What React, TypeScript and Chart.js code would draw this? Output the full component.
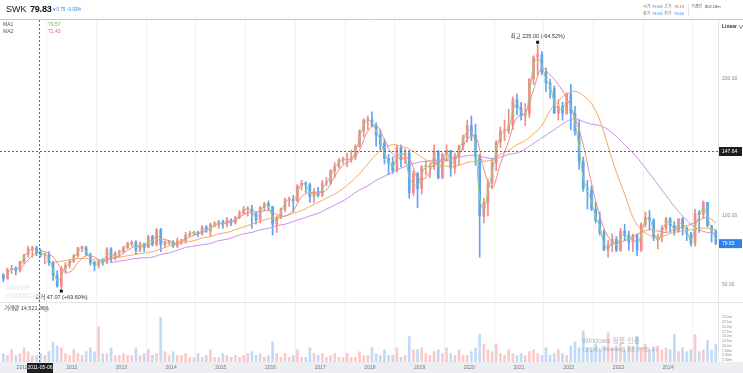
import React, { useEffect, useRef } from "react";
import { Chart, registerables } from "chart.js";
Chart.register(...registerables);

// ---------- data (monthly candles, Aug 2010 – Dec 2024) ----------
const FIRST_YEAR = 2010;
const FIRST_MONTH = 8;
const COUNT = 173;
const months: string[] = (() => {
  const out: string[] = [];
  let y = FIRST_YEAR, m = FIRST_MONTH;
  for (let k = 0; k < COUNT; k++) {
    out.push(`${y}-${String(m).padStart(2, "0")}`);
    m++;
    if (m > 12) { m = 1; y++; }
  }
  return out;
})();

const openP = [
  57,54,61,62,60,
  67,72,76,77,73,72,72,66,57,49,62,64,
  67,71,77,77,72,66,64,67,66,76,69,73,
  74,77,80,81,75,80,77,85,79,90,79,81,
  81,78,82,82,86,87,88,87,92,89,94,94,
  96,94,97,95,99,102,105,105,102,97,106,109,
  107,94,99,105,112,112,111,122,124,123,114,118,
  115,124,124,133,136,141,141,141,143,151,162,170,
  170,166,159,153,142,139,133,150,141,146,117,131,
  120,136,136,136,147,128,145,148,135,144,151,157,
  166,159,143,100,110,124,139,154,162,162,166,185,
  179,173,175,200,216,218,205,197,193,175,180,175,
  189,175,162,140,120,119,105,97,88,75,79,83,
  75,89,86,81,86,75,94,99,97,84,85,91,
  98,93,89,98,91,87,80,102,101,110,93,89,
];
const highP = [
  58,62,64,63,67,
  72,78,78,78,76,73,74,67,60,63,66,68,
  72,77,78,78,73,67,68,69,77,77,74,75,
  78,81,82,82,81,80,86,86,91,91,82,82,
  82,84,83,88,89,89,89,93,93,95,96,97,
  97,99,98,100,104,107,107,108,103,107,110,111,
  107,100,106,113,114,115,123,126,125,124,120,121,
  126,128,134,139,142,143,146,148,152,163,171,173,
  176,168,163,156,145,143,152,152,149,148,133,132,
  137,140,138,152,148,146,152,148,146,152,159,170,
  173,167,145,113,127,142,155,165,170,178,187,189,
  183,182,200,217,225,220,208,200,195,185,183,190,
  196,180,170,143,126,122,110,103,90,82,87,85,
  91,94,89,87,87,95,103,104,98,87,93,99,
  99,96,98,99,92,88,105,104,111,110,93,90,
];
const lowP = [
  52,54,58,57,59,
  65,70,70,71,70,65,64,53,48,47.07,58,62,
  66,70,74,71,64,60,62,64,65,66,68,70,
  73,76,78,72,74,74,77,78,78,74,77,79,
  77,77,79,80,85,86,85,86,88,85,92,91,
  91,92,93,94,98,101,100,91,94,95,104,104,
  86,88,98,103,107,103,110,119,117,110,110,114,
  114,122,123,128,135,138,136,139,141,150,158,163,
  165,151,148,138,130,131,132,136,138,113,115,106,
  116,130,128,134,127,127,140,129,131,137,148,154,
  155,137,70,95,100,120,133,150,155,160,163,174,
  170,166,172,196,203,203,191,186,175,170,170,174,
  163,159,134,118,105,104,95,86,75,70,74,74,
  74,82,75,74,71,74,92,90,82,76,81,89,
  88,86,88,86,82,78,78,88,98,92,81,79,
];
const closeP = [
  54,61,62,60,67,
  72,76,77,73,72,72,66,57,49,62,64,67,
  71,77,77,72,66,64,67,66,76,69,73,74,
  77,80,81,75,80,77,85,79,90,79,81,81,
  78,82,82,86,87,88,87,92,89,94,94,96,
  94,97,95,99,102,105,105,102,97,106,109,107,
  94,99,105,112,112,111,122,124,123,114,118,115,
  124,124,133,136,141,141,141,143,151,162,170,170,
  166,159,153,142,139,133,150,141,146,117,131,120,
  136,136,136,147,128,145,148,135,144,151,157,166,
  159,143,100,110,124,139,154,162,162,166,185,179,
  173,175,200,216,218,205,197,193,175,180,175,189,
  175,162,140,120,119,105,97,88,75,79,83,75,
  89,86,81,86,75,94,99,97,84,85,91,98,
  93,89,98,91,87,80,102,101,110,93,89,80,
];
// volume, millions
const volumeM = [
  6,5,8,5,6,
  9,7,5,5,6,5,7,12,10,9,6,5,
  8,6,5,7,9,7,20,6,6,9,5,5,
  6,5,5,9,5,6,8,5,6,25,7,5,
  7,5,5,6,4,4,6,4,5,8,4,4,
  6,5,4,5,4,5,6,7,5,6,4,5,
  12,6,4,6,4,5,8,4,4,9,6,5,
  6,4,5,6,4,4,6,4,4,7,5,5,
  9,6,5,8,5,5,9,4,5,15,8,8,
  9,6,5,7,8,6,9,6,5,8,5,5,
  7,9,16,11,8,7,11,6,5,8,6,5,
  6,5,7,8,6,5,9,5,6,8,6,5,
  10,12,9,18,9,8,11,8,10,17,9,10,
  11,8,10,10,15,9,11,8,9,10,8,9,
  8,16,7,9,7,8,16,7,8,13,8,11,
];
// MA1 (short), monthly
const ma1 = [
  null,58,61,61,63,
  70,74,76,75,72,72,69,61,53,56,63,65,
  69,74,77,74,69,64,66,66,72,72,71,73,
  76,79,80,77,78,78,82,82,86,83,80,81,
  79,80,82,84,87,88,87,90,90,91,94,95,
  94,96,96,97,101,104,105,103,99,102,108,107,
  99,96,103,109,112,111,117,123,123,117,116,116,
  120,124,129,135,139,141,141,142,147,157,166,170,
  168,162,155,146,140,136,143,145,144,128,124,122,
  130,136,136,143,136,137,147,140,140,148,155,162,
  162,151,113,105,118,132,148,158,162,164,177,182,
  176,174,188,210,215,210,200,195,183,178,178,184,
  180,168,150,128,119,110,100,92,80,76,81,79,
  84,87,83,83,80,86,97,98,89,82,88,95,
  95,90,94,94,89,82,92,100,106,100,90,83,
];
// MA2..MA4 sampled every two months (Dec 2010, Feb 2011, ... Dec 2024)
const maDates = months.filter((_, i) => i >= 4 && i % 2 === 0);
const ma2 = [
  61,68,73,74,70,62,59,66,71,70,67,69,71,75,78,78,80,83,82,80,83,86,88,91,94,95,97,101,103,103,104,101,100,104,114,117,117,119,129,137,141,148,162,166,156,145,142,142,128,128,138,140,141,145,156,158,134,121,138,155,172,175,192,208,203,196,186,172,152,124,100,85,80,82,85,88,90,89,88,90,92,94,97,99,95,
];
const ma3 = [
  null,null,null,null,
  66,67,68,69,69,68,68,69,70,71,72,73,74,76,78,80,81,82,84,85,87,88,90,92,94,96,98,99,100,102,104,107,110,113,116,120,125,131,138,145,150,152,151,149,145,141,138,137,136,137,139,140,140,141,145,148,152,155,160,166,177,184,189,191,188,182,170,151,132,116,99,90,86,84,86,88,89,90,91,91,90,
];
const ma4 = [
  null,null,null,null,null,null,null,null,null,null,null,
  66,67,68,69,69.5,70,72,73,75,77,78,79,80,82,83,85,87,88,90,91,93,94,96,98,100,102,105,108,111,115,119,122,126,129,132,135,137,139,140,140.5,141,142,143,144,144.5,143,142,143,145,146,149,153,157,161,165,169,171,169,167,166,163,158,152,146,139,131,123,115,107,100,94,90,88,87.5,
];
const yearTicks = [2011,2012,2013,2014,2015,2016,2017,2018,2019,2020,2021,2022,2023,2024];
const priceTicks = [50, 100, 200];
const volumeTicks = [2.5,5,7.5,10,12.5,15,17.5,20,22.5,25];

const CROSS_DATE = "2011-05-06";
const CROSS_PRICE = 147.64;
const LAST_PRICE = 79.83;
const MAX_LABEL = "최고 225.00 (-64.52%)";
const MIN_LABEL = "최저 47.07 (+69.60%)";

// ---------- styling ----------
const UP = "#f38b8b";
const DOWN = "#5fa3f2";
const VUP = "rgba(248,180,180,0.7)";
const VDOWN = "rgba(168,202,242,0.7)";
const FONT = '"Liberation Sans", Arial, "Noto Sans CJK KR", sans-serif';

const xOf = (d: string) => {
  const [y, m] = d.split("-").map(Number);
  return (y - 2011) * 12 + (m - 1) + 0.5;
};
const xOfDay = (d: string) => {
  const [y, m, day] = d.split("-").map(Number);
  return (y - 2011) * 12 + (m - 1) + (day - 1) / 31;
};

const X_MIN = -5.31, X_MAX = 168.04;
const Y_MIN = 37.23, Y_MAX = 243.07;
const V_MAX = 33.0;
const BAND_TOP = 362;

const annotPlugin = {
  id: "annot",
  beforeDraw(chart: any) {
    const { ctx, width, height } = chart;
    ctx.save();
    ctx.fillStyle = "#ffffff";
    ctx.fillRect(0, 0, width, height);
    ctx.restore();
  },
  afterDatasetsDraw(chart: any) {
    const { ctx, width, height, scales } = chart;
    ctx.save();
    ctx.fillStyle = "#eceef2";
    ctx.fillRect(0, BAND_TOP, width, height - BAND_TOP);
    const xs = scales.x;
    ctx.font = `5px ${FONT}`;
    ctx.fillStyle = "#777";
    ctx.textAlign = "center";
    ctx.textBaseline = "middle";
    yearTicks.forEach((y) => {
      ctx.fillText(String(y), xs.getPixelForValue((y - 2011) * 12), 367.5);
    });
    ctx.restore();
  },
  afterDraw(chart: any) {
    const { ctx, chartArea: ca, scales, width } = chart;
    const xs = scales.x, ys = scales.y, yv = scales.yv;
    ctx.save();
    ctx.lineWidth = 1;
    ctx.strokeStyle = "#c8c8c8";
    ctx.beginPath(); ctx.moveTo(0, ca.top - 0.5); ctx.lineTo(width, ca.top - 0.5); ctx.stroke();
    ctx.strokeStyle = "#e4e4e4";
    ctx.beginPath(); ctx.moveTo(0, yv.top + 0.5); ctx.lineTo(width, yv.top + 0.5); ctx.stroke();

    const cx = Math.round(xs.getPixelForValue(xOfDay(CROSS_DATE))) + 0.5;
    const hy = Math.round(ys.getPixelForValue(CROSS_PRICE)) + 0.5;
    ctx.setLineDash([2, 2]);
    ctx.strokeStyle = "#666";
    ctx.beginPath(); ctx.moveTo(cx, ca.top); ctx.lineTo(cx, BAND_TOP); ctx.stroke();
    ctx.beginPath(); ctx.moveTo(0, hy); ctx.lineTo(ca.right, hy); ctx.stroke();
    ctx.setLineDash([]);

    ctx.font = `5px ${FONT}`;
    ctx.textBaseline = "middle";
    const box = (yy: number, text: string, color: string) => {
      ctx.fillStyle = color;
      ctx.fillRect(ca.right + 1, yy - 4.5, 23, 9);
      ctx.fillStyle = "#fff";
      ctx.textAlign = "left";
      ctx.fillText(text, ca.right + 4, yy);
    };
    box(hy, CROSS_PRICE.toFixed(2), "#1e1e1e");
    box(ys.getPixelForValue(LAST_PRICE), LAST_PRICE.toFixed(2), "#2f80ed");

    ctx.fillStyle = "#1e1e1e";
    ctx.fillRect(cx - 12.5, BAND_TOP + 1, 26, 10);
    ctx.fillStyle = "#fff";
    ctx.textAlign = "center";
    ctx.fillText(CROSS_DATE, cx + 0.5, BAND_TOP + 6);

    let hi = 0, lo = 0;
    highP.forEach((v, i) => { if (v > highP[hi]) hi = i; });
    lowP.forEach((v, i) => { if (v < lowP[lo]) lo = i; });
    const hx = xs.getPixelForValue(xOf(months[hi]));
    const hyy = ys.getPixelForValue(highP[hi]);
    const lx = xs.getPixelForValue(xOf(months[lo]));
    const lyy = ys.getPixelForValue(lowP[lo]);
    ctx.fillStyle = "#111";
    ctx.fillRect(hx - 1.5, hyy - 4, 3, 3);
    ctx.fillRect(lx - 1.5, lyy + 1, 3, 3);
    ctx.font = `5.5px ${FONT}`;
    ctx.fillStyle = "#333";
    ctx.textAlign = "center";
    ctx.fillText(MAX_LABEL, hx, hyy - 8);
    ctx.fillText(MIN_LABEL, lx, lyy + 8.5);
    ctx.restore();
  },
};

export default function App() {
  const ref = useRef<HTMLCanvasElement | null>(null);

  useEffect(() => {
    document.body.style.margin = "0";
    if (!ref.current) return;
    const isUp = (i: number) => closeP[i] >= openP[i];
    const candleColors = months.map((_, i) => (isUp(i) ? UP : DOWN));
    const volColors = months.map((_, i) => (isUp(i) ? VUP : VDOWN));
    const maLine = (dates: string[], vals: (number | null)[], color: string, order: number) => ({
      type: "line" as const,
      yAxisID: "y",
      data: dates.map((d, i) => ({ x: xOf(d), y: vals[i] })).filter((p) => p.y !== null),
      borderColor: color,
      borderWidth: 1,
      pointRadius: 0,
      tension: 0.4,
      order,
    });

    const chart = new Chart(ref.current, {
      type: "bar",
      data: {
        datasets: [
          {
            type: "bar",
            yAxisID: "yv",
            data: months.map((d, i) => ({ x: xOf(d), y: volumeM[i] })),
            backgroundColor: volColors,
            barThickness: 2,
            grouped: false,
            order: 10,
          } as any,
          {
            type: "bar",
            yAxisID: "y",
            data: months.map((d, i) => ({ x: xOf(d), y: [lowP[i], highP[i]] })),
            backgroundColor: candleColors,
            barThickness: 1,
            grouped: false,
            order: 6,
          } as any,
          {
            type: "bar",
            yAxisID: "y",
            data: months.map((d, i) => ({ x: xOf(d), y: [openP[i], closeP[i]] })),
            backgroundColor: candleColors,
            barThickness: 2,
            minBarLength: 1,
            grouped: false,
            order: 5,
          } as any,
          maLine(maDates, ma4, "#c990e6", 4),
          maLine(maDates, ma3, "#f6a85c", 3),
          maLine(maDates, ma2, "#f08a8a", 2),
          maLine(months, ma1, "#92d27e", 1),
        ],
      },
      options: {
        animation: false,
        responsive: false,
        devicePixelRatio: 1,
        layout: { padding: { top: 20, left: 0, right: 0, bottom: 0 } },
        plugins: { legend: { display: false }, tooltip: { enabled: false } },
        scales: {
          x: {
            type: "linear",
            min: X_MIN,
            max: X_MAX,
            offset: false,
            grid: { color: "#f1f1f1", drawTicks: false },
            border: { display: false },
            ticks: { display: false },
            afterBuildTicks: (s: any) => {
              s.ticks = yearTicks.map((y) => ({ value: (y - 2011) * 12 }));
            },
            afterFit: (s: any) => { s.height = 8; },
          },
          y: {
            type: "linear",
            position: "right",
            stack: "panel",
            stackWeight: 282,
            min: Y_MIN,
            max: Y_MAX,
            grid: { display: false, drawTicks: false },
            border: { display: true, color: "#e6e6e6" },
            ticks: {
              font: { size: 5, family: FONT },
              color: "#888",
              padding: 4,
              autoSkip: false,
              callback: (v: any) => Number(v).toFixed(2),
            },
            afterBuildTicks: (s: any) => {
              s.ticks = priceTicks.map((v) => ({ value: v }));
            },
            afterFit: (s: any) => { s.width = 25; },
          },
          yv: {
            type: "linear",
            position: "right",
            stack: "panel",
            stackWeight: 63,
            min: 0,
            max: V_MAX,
            grid: { display: false, drawTicks: false },
            border: { display: true, color: "#e6e6e6" },
            ticks: {
              font: { size: 3.5, family: FONT },
              color: "#888",
              padding: 4,
              autoSkip: false,
              callback: (v: any) => {
                const n = Number(v);
                return (n >= 10 ? n.toFixed(1) : n.toFixed(2)) + "m";
              },
            },
            afterBuildTicks: (s: any) => {
              s.ticks = volumeTicks.map((v) => ({ value: v }));
            },
            afterFit: (s: any) => { s.width = 25; },
          },
        },
      } as any,
      plugins: [annotPlugin],
    });
    return () => chart.destroy();
  }, []);

  const abs = (l: number, t: number, extra: React.CSSProperties = {}): React.CSSProperties => ({
    position: "absolute",
    left: l,
    top: t,
    lineHeight: 1,
    whiteSpace: "nowrap",
    fontFamily: FONT,
    pointerEvents: "none",
    ...extra,
  });
  const sep = (l: number): React.CSSProperties => ({
    position: "absolute", left: l, top: 4, width: 1, height: 12, background: "#e6e6e6",
  });

  return (
    <div style={{ position: "relative", width: 743, height: 373, background: "#fff", overflow: "hidden" }}>
      <canvas ref={ref} width={743} height={373} style={{ position: "absolute", left: 0, top: 0, display: "block" }} />
      {/* header */}
      <div style={abs(6, 5, { fontSize: 9, color: "#111" })}>SWK</div>
      <div style={abs(30, 5, { fontSize: 9, fontWeight: "bold", color: "#111", letterSpacing: -0.2 })}>79.83</div>
      <div style={abs(52, 8, { fontSize: 4.5, color: "#2f80ed" })}>▼0.75</div>
      <div style={abs(67, 8, { fontSize: 4.5, color: "#2f80ed" })}>-0.93%</div>

      <div style={abs(643, 5, { fontSize: 4, color: "#666" })}>시가</div>
      <div style={abs(652, 5, { fontSize: 4, color: "#2f80ed" })}>79.69</div>
      <div style={sep(662)} />
      <div style={abs(664, 5, { fontSize: 4, color: "#666" })}>고가</div>
      <div style={abs(674, 5, { fontSize: 4, color: "#e54848" })}>78.19</div>
      <div style={sep(688)} />
      <div style={abs(691, 5, { fontSize: 4, color: "#666" })}>거래량</div>
      <div style={abs(705, 5, { fontSize: 4, color: "#444" })}>802.18m</div>
      <div style={abs(643, 12, { fontSize: 4, color: "#666" })}>종가</div>
      <div style={abs(652, 12, { fontSize: 4, color: "#2f80ed" })}>73.65</div>
      <div style={abs(664, 12, { fontSize: 4, color: "#666" })}>저가</div>
      <div style={abs(674, 12, { fontSize: 4, color: "#2f80ed" })}>73.66</div>

      {/* MA legend */}
      <div style={abs(3, 22, { fontSize: 5, color: "#555" })}>MA1</div>
      <div style={abs(48, 22, { fontSize: 5, color: "#5fbf4a" })}>79.57</div>
      <div style={abs(3, 29, { fontSize: 5, color: "#555" })}>MA2</div>
      <div style={abs(48, 29, { fontSize: 5, color: "#ee5a5a" })}>72.43</div>

      <div style={abs(722, 24, { fontSize: 5, color: "#333", fontWeight: "bold" })}>Linear ∨</div>

      {/* watermarks */}
      <div style={abs(6, 284, { fontSize: 7, fontWeight: "bold", color: "#e9ecf1" })}>NAVER</div>
      <div style={abs(6, 292, { fontSize: 7, fontWeight: "bold", color: "#e9ecf1" })}>FINANCIAL</div>

      {/* volume label */}
      <div style={abs(4, 306, { fontSize: 5.5, color: "#444" })}>거래량 14,521,368</div>
      <div style={{ position: "absolute", left: 43, top: 306, width: 4, height: 4, borderRadius: 3, border: "0.5px solid #bbb" }} />

      <div style={abs(582, 337, { fontSize: 7, color: "rgba(120,120,120,0.55)" })}>Windows 정품 인증</div>
      <div style={abs(583, 348, { fontSize: 4.5, color: "rgba(120,120,120,0.55)" })}>[설정]에서 Windows를 정품 인증합니다.</div>
    </div>
  );
}
